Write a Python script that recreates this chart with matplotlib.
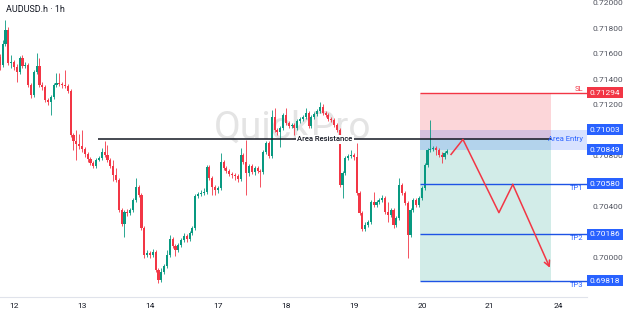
import numpy as np
import matplotlib.pyplot as plt
import matplotlib.transforms as mtransforms

plt.rcParams['font.family'] = ['Roboto', 'DejaVu Sans']

# AUDUSD.h hourly candles (open of each bar = previous close)
first_open = 0.71576
closes = [
    0.71513, 0.71678, 0.71787, 0.71528, 0.71536, 0.71497, 0.71458, 0.71568, 0.71505, 0.71513,
    0.71356, 0.71277, 0.71458, 0.71505, 0.71356, 0.71340, 0.71238, 0.71222, 0.71262, 0.71356,
    0.71371, 0.71364, 0.71356, 0.71348, 0.71309, 0.70963, 0.70916, 0.70893, 0.70877, 0.70853,
    0.70814, 0.70775, 0.70743, 0.70720, 0.70767, 0.70783, 0.70830, 0.70806, 0.70767, 0.70720,
    0.70649, 0.70610, 0.70375, 0.70265, 0.70359, 0.70351, 0.70375, 0.70453, 0.70555, 0.70492,
    0.70233, 0.70021, 0.70037, 0.70021, 0.70045, 0.69904, 0.69825, 0.69888, 0.69935, 0.70021,
    0.70147, 0.70092, 0.70061, 0.70100, 0.70139, 0.70170, 0.70147, 0.70194, 0.70233, 0.70484,
    0.70500, 0.70508, 0.70516, 0.70712, 0.70626, 0.70555, 0.70532, 0.70547, 0.70751, 0.70704,
    0.70681, 0.70657, 0.70649, 0.70641, 0.70618, 0.70806, 0.70751, 0.70665, 0.70720, 0.70673,
    0.70704, 0.70681, 0.70673, 0.70830, 0.70900, 0.70798, 0.71105, 0.71003, 0.70987, 0.71018,
    0.71120, 0.71057, 0.71034, 0.71042, 0.71018, 0.71073, 0.71089, 0.71105, 0.71136, 0.71034,
    0.71105, 0.71128, 0.71152, 0.71183, 0.71136, 0.71120, 0.71089, 0.71081, 0.71042, 0.71003,
    0.70571, 0.70665, 0.70783, 0.70798, 0.70806, 0.70791, 0.70508, 0.70351, 0.70225, 0.70257,
    0.70280, 0.70437, 0.70414, 0.70437, 0.70453, 0.70469, 0.70359, 0.70335, 0.70375, 0.70257,
    0.70312, 0.70571, 0.70508, 0.70429, 0.70178, 0.70375, 0.70453, 0.70414, 0.70469, 0.70547,
    0.70728, 0.70846, 0.70853, 0.70861, 0.70846, 0.70806, 0.70791, 0.70822, 0.70838,
]
highs = [
    0.71599, 0.71709, 0.71866, 0.71811, 0.71591, 0.71552, 0.71521, 0.71583, 0.71591, 0.71536,
    0.71528, 0.71371, 0.71474, 0.71607, 0.71568, 0.71379, 0.71356, 0.71254, 0.71277, 0.71371,
    0.71450, 0.71450, 0.71379, 0.71474, 0.71364, 0.71324, 0.70979, 0.71003, 0.70971, 0.71003,
    0.70869, 0.70830, 0.70791, 0.70759, 0.70783, 0.70798, 0.70861, 0.70916, 0.70885, 0.70783,
    0.70767, 0.70704, 0.70626, 0.70390, 0.70375, 0.70382, 0.70390, 0.70469, 0.70626, 0.70571,
    0.70508, 0.70249, 0.70061, 0.70053, 0.70068, 0.70061, 0.69919, 0.69919, 0.69951, 0.70061,
    0.70178, 0.70163, 0.70108, 0.70115, 0.70155, 0.70194, 0.70186, 0.70210, 0.70249, 0.70500,
    0.70516, 0.70532, 0.70547, 0.70728, 0.70728, 0.70641, 0.70571, 0.70563, 0.70822, 0.70767,
    0.70720, 0.70696, 0.70673, 0.70665, 0.70657, 0.70861, 0.70822, 0.70924, 0.70736, 0.70736,
    0.70720, 0.70720, 0.70696, 0.70846, 0.70916, 0.70916, 0.71160, 0.71175, 0.71018, 0.71034,
    0.71136, 0.71175, 0.71073, 0.71057, 0.71057, 0.71089, 0.71105, 0.71120, 0.71175, 0.71152,
    0.71120, 0.71144, 0.71167, 0.71222, 0.71207, 0.71152, 0.71136, 0.71105, 0.71097, 0.71057,
    0.71018, 0.70681, 0.70798, 0.70814, 0.70846, 0.70822, 0.70900, 0.70524, 0.70367, 0.70280,
    0.70296, 0.70453, 0.70516, 0.70453, 0.70469, 0.70492, 0.70484, 0.70437, 0.70390, 0.70390,
    0.70327, 0.70626, 0.70586, 0.70524, 0.70445, 0.70390, 0.70469, 0.70469, 0.70484, 0.70563,
    0.70743, 0.70861, 0.71081, 0.70877, 0.70877, 0.70861, 0.70830, 0.70838, 0.70853,
]
lows = [
    0.71474, 0.71497, 0.71662, 0.71513, 0.71489, 0.71474, 0.71379, 0.71442, 0.71489, 0.71489,
    0.71340, 0.71254, 0.71262, 0.71442, 0.71340, 0.71317, 0.71222, 0.71199, 0.71120, 0.71246,
    0.71340, 0.71348, 0.71332, 0.71332, 0.71293, 0.70948, 0.70846, 0.70767, 0.70853, 0.70830,
    0.70791, 0.70751, 0.70728, 0.70704, 0.70704, 0.70759, 0.70767, 0.70791, 0.70751, 0.70704,
    0.70602, 0.70594, 0.70359, 0.70249, 0.70163, 0.70327, 0.70335, 0.70359, 0.70437, 0.70477,
    0.70218, 0.69998, 0.70006, 0.69998, 0.70006, 0.69888, 0.69801, 0.69809, 0.69872, 0.69919,
    0.70006, 0.70076, 0.70013, 0.70045, 0.70084, 0.70123, 0.70123, 0.70131, 0.70178, 0.70218,
    0.70469, 0.70484, 0.70492, 0.70500, 0.70610, 0.70492, 0.70492, 0.70508, 0.70532, 0.70689,
    0.70665, 0.70641, 0.70626, 0.70610, 0.70594, 0.70602, 0.70736, 0.70492, 0.70641, 0.70657,
    0.70649, 0.70665, 0.70555, 0.70657, 0.70814, 0.70783, 0.70783, 0.70987, 0.70963, 0.70869,
    0.71003, 0.71042, 0.71018, 0.71018, 0.70963, 0.71003, 0.71057, 0.71073, 0.71089, 0.71018,
    0.71018, 0.71089, 0.71112, 0.71136, 0.71120, 0.71105, 0.71073, 0.71065, 0.71026, 0.70987,
    0.70555, 0.70469, 0.70649, 0.70767, 0.70783, 0.70767, 0.70492, 0.70335, 0.70210, 0.70210,
    0.70241, 0.70265, 0.70398, 0.70398, 0.70422, 0.70437, 0.70343, 0.70280, 0.70320, 0.70233,
    0.70241, 0.70296, 0.70492, 0.70414, 0.69998, 0.70163, 0.70359, 0.70398, 0.70398, 0.70453,
    0.70532, 0.70712, 0.70830, 0.70838, 0.70806, 0.70791, 0.70743, 0.70775, 0.70814,
]
# hour offsets from Mon 12 00:00 (weekends removed)
hours = np.arange(-5, -5 + len(closes))
day_ticks = [0, 24, 48, 72, 96, 120, 144, 168, 192]
day_labels = ['12', '13', '14', '17', '18', '19', '20', '21', '24']

# trade plan
sl_price = 0.71294
entry_top = 0.71003
entry_bottom = 0.70849
resistance = 0.70929
tp_prices = [0.70580, 0.70186, 0.69818]
tp_names = ['TP1', 'TP2', 'TP3']
zone_start, zone_end = 143.5, 189.5
resistance_start = 29.6
proj_h = [154.3, 158.5, 171.2, 176.1, 189.2]
proj_p = [0.70811, 0.70929, 0.70354, 0.70575, 0.69921]

UP = '#089981'
DOWN = '#f23645'
BLUE = '#2962ff'
TXT = '#131722'

fig = plt.figure(figsize=(6.24, 3.16), dpi=100)
ax = fig.add_axes([0, 19 / 316, 587 / 624, 297 / 316])
ax.set_xlim(-4.94, 202.3)
ax.set_ylim(0.69692, 0.72023)

# watermark
ax.text(98.5, 0.71020, 'QuickPro', fontsize=28, color='#e4e4e4', ha='center',
        va='center', zorder=0)

# candles
opens = np.array([first_open] + closes[:-1])
closes_a = np.array(closes)
cols = np.where(closes_a >= opens, UP, DOWN)
ax.vlines(hours, lows, highs, colors=cols, lw=0.6, zorder=3)
ax.bar(hours, closes_a - opens, bottom=opens, width=0.75, color=cols, zorder=3)

# zones
ax.fill_between([zone_start, zone_end], resistance, sl_price, color=DOWN,
                alpha=0.2, lw=0, zorder=1)
ax.fill_between([zone_start, zone_end], tp_prices[-1], resistance, color=UP,
                alpha=0.18, lw=0, zorder=1)
ax.fill_between([zone_start, 202.3], entry_bottom, entry_top, color=BLUE,
                alpha=0.18, lw=0, zorder=1.5)

# levels
ax.hlines(sl_price, zone_start, 202.3, color=DOWN, lw=1, zorder=4)
ax.hlines(tp_prices, zone_start, 202.3, color='#1e53e5', lw=1, zorder=4)
ax.hlines(resistance, resistance_start, zone_end, color=TXT, lw=1.1, zorder=4)
ax.text(109.8, resistance, 'Area Resistance', fontsize=5.5, color=TXT,
        fontweight='medium', ha='center', va='center', zorder=5,
        bbox=dict(boxstyle='square,pad=0.15', fc='white', ec='none'))

# projected path
ax.plot(proj_h[:-1], proj_p[:-1], color=DOWN, lw=1.1, zorder=5)
ax.annotate('', xy=(proj_h[-1], proj_p[-1]), xytext=(proj_h[-2], proj_p[-2]),
            arrowprops=dict(arrowstyle='->', color=DOWN, lw=1.1,
                            mutation_scale=10, shrinkA=0, shrinkB=0), zorder=5)

# level tags
lab = mtransforms.blended_transform_factory(ax.transAxes, ax.transData)
xr = 583 / 587
ax.text(xr, sl_price + 0.00008, 'SL', transform=lab, fontsize=5.5, color=DOWN,
        ha='right', va='bottom', zorder=6)
ax.text(xr, resistance, 'Area Entry', transform=lab, fontsize=5.5, color=BLUE,
        ha='right', va='center', zorder=6)
for p, n in zip(tp_prices, tp_names):
    ax.text(xr, p - 0.0001, n, transform=lab, fontsize=5.5, color=BLUE,
            ha='right', va='top', zorder=6)

# price boxes on the scale
box_prices = [sl_price, entry_top, entry_bottom] + tp_prices
box_cols = [DOWN, BLUE, BLUE, BLUE, BLUE, BLUE]
for p, c in zip(box_prices, box_cols):
    ax.text(1 + 3 / 587, p, '%.5f' % p, transform=lab, fontsize=6, color='white',
            ha='left', va='center', zorder=10, clip_on=False,
            bbox=dict(boxstyle='square,pad=0.3', fc=c, ec='none'))

# axes styling
for s in ['top', 'left', 'right']:
    ax.spines[s].set_visible(False)
ax.spines['bottom'].set_color('#e0e3eb')
ax.spines['bottom'].set_linewidth(0.8)
ax.set_xticks(day_ticks)
ax.set_xticklabels(day_labels)
ax.set_yticks(np.arange(0.698, 0.7201, 0.002))
ax.yaxis.set_major_formatter(plt.FormatStrFormatter('%.5f'))
ax.yaxis.tick_right()
ax.tick_params(axis='y', length=0, pad=4, labelsize=6, labelcolor='#50535e')
ax.tick_params(axis='x', length=0, pad=4, labelsize=6, labelcolor=TXT)

fig.text(6 / 624, 1 - 10 / 316, 'AUDUSD.h · 1h', fontsize=6.5, color=TXT,
         va='center', ha='left')

fig.savefig('out.png', dpi=100)
